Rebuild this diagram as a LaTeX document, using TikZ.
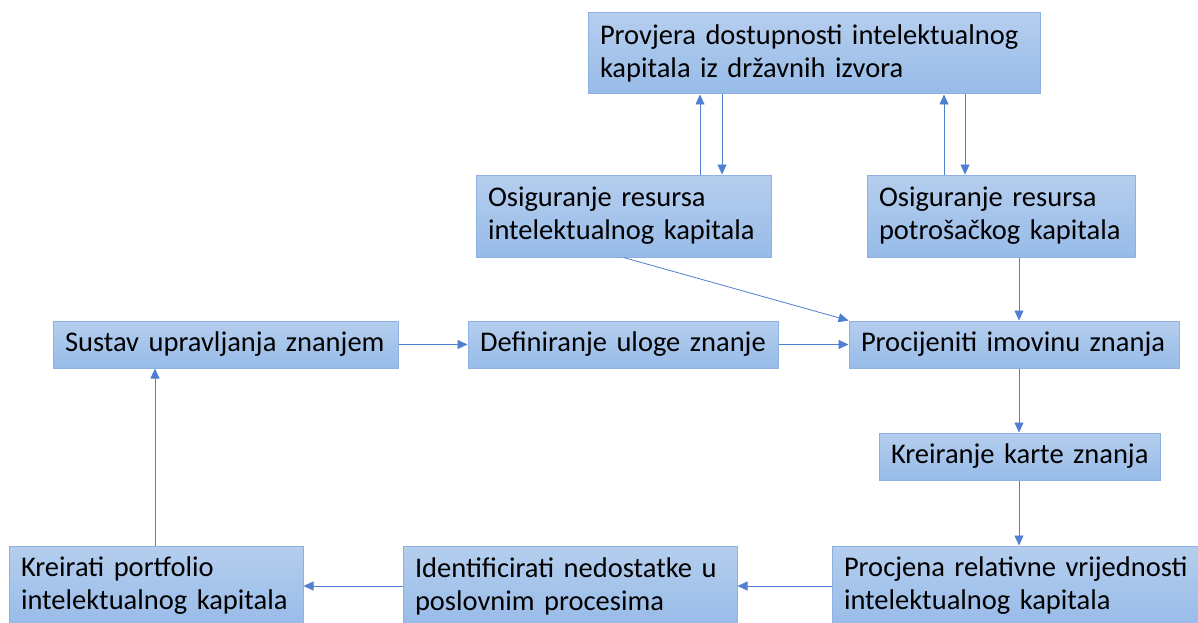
\documentclass[tikz,border=0pt]{standalone}
\usepackage{fontspec}
\setmainfont{Carlito}
\usetikzlibrary{arrows.meta,shadings}

\definecolor{boxtop}{HTML}{B5CEEE}
\definecolor{boxbot}{HTML}{97BBE8}
\definecolor{boxline}{HTML}{8DB2E2}
\definecolor{arrline}{HTML}{4F7FD0}

\begin{document}
\begin{tikzpicture}[x=1pt,y=-1pt,
		box/.style={draw=boxline, line width=1pt, top color=boxtop, bottom color=boxbot,
			align=left, inner xsep=12pt, inner ysep=0pt,
			font=\fontsize{28.5}{33}\selectfont},
		arr/.style={draw=arrline, line width=0.8pt, -{Triangle[length=10pt,width=9pt]}}]
		\useasboundingbox (0, 0) rectangle (1198, 623);

		\node[box, text width=428, minimum height=81] (provjera) at (814, 53.5) {Provjera dostupnosti intelektualnog\\kapitala iz državnih izvora};
		\node[box, text width=271, minimum height=82] (osint) at (623.5, 216) {Osiguranje resursa\\intelektualnog kapitala};
		\node[box, text width=244, minimum height=82] (ospot) at (1001, 216) {Osiguranje resursa\\potrošačkog kapitala};

		\node[box, text width=321, minimum height=47] (sustav) at (225.5, 344.5) {Sustav upravljanja znanjem};
		\node[box, text width=286, minimum height=47] (definiranje) at (623, 344.5) {Definiranje uloge znanje};
		\node[box, text width=306, minimum height=47] (procijeniti) at (1014, 344.5) {Procijeniti imovinu znanja};
		\node[box, text width=257, minimum height=47] (karta) at (1019.5, 456.5) {\mbox{Kreiranje karte znanja}};

		\node[box, text width=354, minimum height=80] (procjena) at (1021, 586) {Procjena relativne vrijednosti\\intelektualnog kapitala};
		\node[box, text width=310, minimum height=80] (identif) at (570, 586) {Identificirati nedostatke u\\poslovnim procesima};
		\node[box, text width=270, minimum height=80] (kreirati) at (156, 586) {Kreirati portfolio\\intelektualnog kapitala};

		\coordinate (c1) at (700, 0);
		\coordinate (c2) at (722, 0);
		\coordinate (c3) at (944, 0);
		\coordinate (c4) at (965, 0);
		\coordinate (c5) at (1019, 0);
		\coordinate (c6) at (155, 0);

		\draw[arr] (osint.north -| c1) -- (provjera.south -| c1);
		\draw[arr] (provjera.south -| c2) -- (osint.north -| c2);
		\draw[arr] (ospot.north -| c3) -- (provjera.south -| c3);
		\draw[arr] (provjera.south -| c4) -- (ospot.north -| c4);

		\draw[arr] (osint.south) -- (procijeniti.north west);
		\draw[arr] (ospot.south -| c5) -- (procijeniti.north -| c5);
		\draw[arr] (sustav) -- (definiranje);
		\draw[arr] (definiranje) -- (procijeniti);
		\draw[arr] (procijeniti.south -| c5) -- (karta.north -| c5);
		\draw[arr] (karta.south -| c5) -- (procjena.north -| c5);
		\draw[arr] (procjena) -- (identif);
		\draw[arr] (identif) -- (kreirati);
		\draw[arr] (kreirati.north -| c6) -- (sustav.south -| c6);
	\end{tikzpicture}
\end{document}
